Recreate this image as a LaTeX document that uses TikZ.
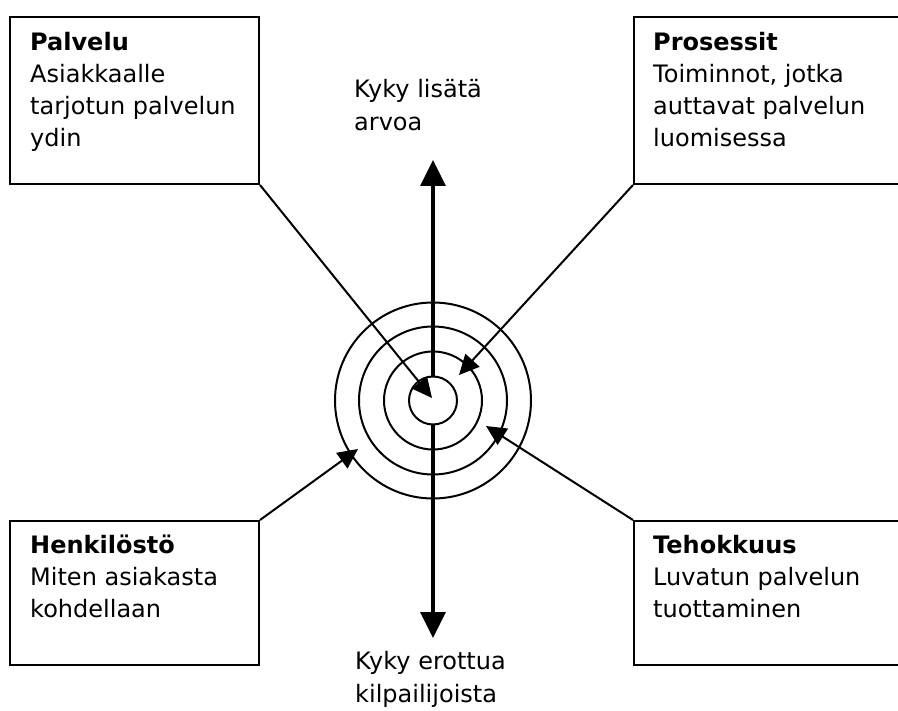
\documentclass[tikz,border=0pt]{standalone}
\usepackage{fontspec}
\setmainfont{DejaVu Sans}
\usetikzlibrary{arrows.meta}
\tikzset{
  box/.style={draw, line width=2pt, rectangle, inner sep=0pt, anchor=north west},
  txt/.style={anchor=north west, inner sep=0pt, align=left, font=\fontsize{24}{32}\selectfont},
  axtxt/.style={anchor=north west, inner sep=0pt, align=left, font=\fontsize{24}{33}\selectfont},
  ring/.style={draw, line width=2pt, circle, inner sep=0pt},
  conn/.style={line width=2pt, -{Triangle[length=20pt,width=19pt]}},
  axis/.style={line width=3.5pt, {Triangle[length=26pt,width=25pt]}-{Triangle[length=26pt,width=25pt]}}
}
\begin{document}
\begin{tikzpicture}[x=1pt,y=-1pt]
\useasboundingbox (0,0) rectangle (898,711);
\clip (0,0) rectangle (898,711);
% boxes
\node[box, minimum width=249pt, minimum height=167pt] (palvelu) at (9,16) {};
\node[box, minimum width=272pt, minimum height=167pt] (prosessit) at (633,16) {};
\node[box, minimum width=249pt, minimum height=144pt] (henkilosto) at (9,520) {};
\node[box, minimum width=272pt, minimum height=144pt] (tehokkuus) at (633,520) {};
% box texts
\node[txt] (tpalvelu) at (30,27.6) {\strut\textbf{Palvelu}\\Asiakkaalle\\tarjotun palvelun\\ydin};
\node[txt] (tprosessit) at (653,27.6) {\strut\textbf{Prosessit}\\Toiminnot, jotka\\auttavat palvelun\\luomisessa};
\node[txt] (thenk) at (30,530.6) {\strut\textbf{Henkilöstö}\\Miten asiakasta\\kohdellaan};
\node[txt] (ttehok) at (653,530.6) {\strut\textbf{Tehokkuus}\\Luvatun palvelun\\tuottaminen};
% axis labels
\node[axtxt] (lup) at (354,74) {\strut Kyky lisätä\\arvoa};
\node[axtxt] (ldown) at (355,646) {\strut Kyky erottua\\kilpailijoista};
% axis
\coordinate (atop) at (433,160);
\coordinate (abot) at (433,638);
\draw[axis] (atop) -- (abot);
% rings
\coordinate (c) at (433,400.5);
\node[ring, minimum size=196pt] (r4) at (c) {};
\node[ring, minimum size=148pt] (r3) at (c) {};
\node[ring, minimum size=98pt] (r2) at (c) {};
\node[ring, fill=white, minimum size=48pt] (r1) at (c) {};
% connectors
\coordinate (tipA) at (432,398);
\coordinate (tipB) at (459,375);
\coordinate (tipC) at (486,426);
\coordinate (tipD) at (358,449);
\draw[conn] (palvelu.south east) -- (tipA);
\draw[conn] (prosessit.south west) -- (tipB);
\draw[conn] (tehokkuus.north west) -- (tipC);
\draw[conn] (henkilosto.north east) -- (tipD);
\end{tikzpicture}
\end{document}
